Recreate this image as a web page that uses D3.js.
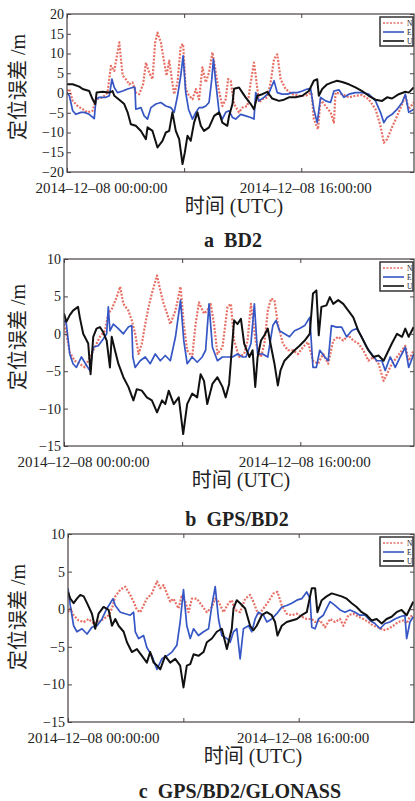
<!DOCTYPE html>
<html>
<head>
<meta charset="utf-8">
<script src="https://cdn.jsdelivr.net/npm/d3@7"></script>
<style>
  body { margin: 0; background: #fff; }
</style>
</head>
<body>
<svg id="chart" width="415" height="801"></svg>
<script>
// series / legend
const seriesNames = ['N', 'E', 'U'];
const seriesColors = ['#e2574a', '#3556c4', '#111111'];
const captions = ['a  BD2', 'b  GPS/BD2', 'c  GPS/BD2/GLONASS'];
const yLabel = '定位误差 /m';
const xLabel = '时间 (UTC)';

// ticks (x in hours after 2014-12-08 00:00 UTC)
const hourTicks = [0, 8, 16];
const hourTickLabels = ['2014\u201312\u201308 00:00:00', '', '2014\u201312\u201308 16:00:00'];
const yTicksBD2 = [20, 15, 10, 5, 0, -5, -10, -15, -20];
const yTicksMulti = [10, 5, 0, -5, -10, -15];

// a BD2  [hour, metres]
const bd2N = [[0,0.5],[0.16,1.0],[0.39,-2],[0.73,-3.3],[1.07,-4.1],[1.41,-4.9],[1.75,-4.5],[1.98,-1.6],[2.43,-1.1],[2.77,0.1],[3,6.9],[3.23,5.6],[3.57,12.8],[3.8,4.4],[4.02,3.5],[4.25,2.2],[4.48,2.7],[4.7,0.1],[4.93,-0.3],[5.2,2.2],[5.39,7.7],[5.61,5.2],[5.84,3.5],[6.02,12.8],[6.18,15.3],[6.41,12.8],[6.64,7.7],[6.8,4.4],[6.98,8.2],[7.16,3.5],[7.32,-0.3],[7.55,2.7],[7.77,12],[7.93,12.4],[8.11,1.0],[8.34,-0.7],[8.57,-1.6],[8.8,1.0],[9.02,-1.6],[9.25,6.5],[9.48,2.7],[9.7,5.2],[9.93,10.3],[10.09,6.9],[10.27,2.7],[10.43,-0.3],[10.61,-3.3],[10.84,-1.6],[11,3.5],[11.18,3.1],[11.41,-2.8],[11.75,-4.9],[11.98,-3.7],[12.32,-3.3],[12.55,2.7],[12.77,7.7],[12.89,4.4],[13.11,-2.4],[13.34,-1.6],[13.68,-1.1],[13.91,2.7],[14.14,8.6],[14.36,9.8],[14.59,3.5],[14.93,1.0],[15.39,-0.3],[15.84,-0.7],[16.3,-0.7],[16.7,0.1],[16.86,-6.6],[17.14,-9.2],[17.32,-1.6],[17.66,-3.3],[18,-4.9],[18.23,-7.5],[18.34,0.1],[18.8,-0.3],[19.25,-1.1],[19.7,-0.7],[20.16,-0.5],[20.61,-1.6],[21.07,-4.1],[21.41,-8.3],[21.64,-12.6],[21.86,-11.7],[22.2,-8.7],[22.55,-5.8],[22.89,-2.8],[23.11,-0.7],[23.34,-4.1],[23.68,-2.4]];
const bd2E = [[0,0.1],[0.16,-0.7],[0.39,-4.5],[0.61,-5.4],[0.95,-4.9],[1.18,-4.9],[1.52,-5.4],[1.86,-6.5],[1.98,-1.6],[2.2,-1.1],[2.66,-1.1],[2.89,-0.7],[3.07,3.5],[3.23,1.4],[3.45,0.1],[3.8,0.5],[4.14,1.0],[4.48,1.4],[4.64,1.4],[4.7,-4.1],[5.05,-3.7],[5.27,-5.8],[5.5,-6.6],[5.73,-3.7],[6.07,-2.8],[6.41,-2.4],[6.75,-3.3],[7.09,-3.7],[7.32,-4.9],[7.55,-0.7],[7.77,4.4],[7.93,9.4],[8.11,0.1],[8.3,-4.1],[8.57,-6.6],[8.8,-4.9],[9.02,-3.7],[9.25,-3.7],[9.48,-3.3],[9.7,-2.4],[9.89,3.5],[10,8.6],[10.16,2.7],[10.39,-4.9],[10.61,-6.6],[10.84,-4.9],[11.07,-4.5],[11.3,-6.2],[11.52,-6.6],[11.86,-5.4],[12.2,-5.8],[12.55,-6.2],[12.77,-6.6],[12.89,0.1],[13.11,-2],[13.45,-1.1],[13.8,0.1],[14.14,3.1],[14.36,0.1],[14.7,-0.3],[15.05,-0.3],[15.39,0.1],[15.73,0.1],[16.07,0.5],[16.41,1.0],[16.64,1.1],[16.86,-4.1],[17.09,-7.5],[17.32,-1.1],[17.66,-2],[18,-2.4],[18.23,0.5],[18.57,0.8],[18.91,-1.1],[19.25,-0.3],[19.7,0.1],[20.16,0.1],[20.61,-0.3],[21.07,-2],[21.41,-4.9],[21.64,-7.5],[21.86,-6.2],[22.2,-5.4],[22.55,-4.1],[22.89,-2.4],[23.11,-0.3],[23.34,-4.9],[23.68,-4.1]];
const bd2U = [[0,2.2],[0.39,2.2],[0.84,1.6],[1.07,1.0],[1.52,0.5],[1.75,-1.6],[1.93,-2.8],[2.02,0.1],[2.43,0.3],[2.89,0.1],[3.11,0.5],[3.23,-0.7],[3.57,-1.7],[3.91,-2.8],[4.14,-4.9],[4.36,-7.9],[4.7,-8.3],[5.05,-9.6],[5.39,-11.7],[5.5,-8.7],[5.84,-9.6],[6.18,-13.8],[6.52,-12.1],[6.75,-10],[6.98,-9.6],[7.2,-4.9],[7.43,-9.6],[7.66,-11.7],[7.89,-18],[8.05,-15],[8.23,-10.8],[8.45,-12.1],[8.68,-7.5],[8.91,-4.9],[9.14,-8.3],[9.36,-9.6],[9.7,-8.7],[10.05,-5.8],[10.39,-4.9],[10.61,-7.5],[10.95,-8.3],[11.07,-5.8],[11.3,-2.8],[11.41,1.1],[11.75,1.4],[11.98,0.1],[12.2,-1.1],[12.55,-2.8],[12.77,-4.1],[13,-0.7],[13.34,-0.3],[13.68,0.3],[14.02,-1.4],[14.48,-2],[14.82,-1.7],[15.16,-1.1],[15.61,-1.1],[16.07,-0.7],[16.52,0.5],[16.86,3.1],[17.09,3.5],[17.2,-0.7],[17.43,1.0],[17.77,2.2],[18.11,2.7],[18.45,3.1],[18.8,2.8],[19.25,2.2],[19.7,1.4],[20.16,0.5],[20.61,-0.7],[21.07,-1.7],[21.52,-2],[21.86,-1.1],[22.2,-1.4],[22.66,-0.3],[23.11,0.3],[23.34,0.1],[23.68,1.4]];

// b GPS/BD2
const gbN = [[0,1.3],[0.16,0],[0.39,-2.5],[0.73,-3.6],[1.07,-4],[1.41,-4.5],[1.75,-3.1],[2.09,-1.8],[2.43,-0.4],[2.77,0.4],[3,2.7],[3.23,3.3],[3.57,4.9],[3.8,6.3],[4.02,4],[4.36,3.1],[4.59,1.8],[4.82,0],[5.05,-2.7],[5.27,-1.3],[5.5,1.3],[5.73,3.6],[5.95,5.4],[6.3,7.8],[6.52,5.8],[6.75,4],[6.98,2.7],[7.2,1.3],[7.55,3.1],[7.89,6.3],[8.11,1.3],[8.34,-2.2],[8.68,-3.1],[8.91,1.3],[9.14,4.2],[9.48,2.7],[9.7,3.1],[9.93,4],[10.16,1.3],[10.39,-2.7],[10.73,-1.8],[11.07,3.6],[11.3,4],[11.52,-0.9],[11.86,-3.1],[12.2,-2.7],[12.43,-0.9],[12.66,4],[13,-1.3],[13.34,-3.1],[13.57,-1.3],[13.8,3.1],[14.02,4.7],[14.25,4.5],[14.48,1.3],[14.82,-1.3],[15.16,-2.2],[15.5,-2.2],[15.84,-2.7],[16.18,-1.8],[16.52,-1.1],[16.86,-3.6],[17.2,-4],[17.55,-2.7],[17.89,-4],[18.23,-0.9],[18.57,-0.4],[18.91,-0.9],[19.25,-0.2],[19.59,-0.9],[19.93,-1.3],[20.27,-2.2],[20.61,-3.6],[20.95,-3.1],[21.3,-4],[21.64,-6.3],[21.86,-5.4],[22.2,-4],[22.55,-3.1],[22.89,-2.2],[23.11,-1.6],[23.34,-3.6],[23.68,-2.2]];
const gbE = [[0,1.8],[0.16,1.3],[0.39,-2.7],[0.61,-4],[0.84,-4.5],[1.18,-3.1],[1.52,-4.2],[1.75,-4.9],[1.98,-1.8],[2.32,-1.6],[2.66,-0.7],[2.89,0],[3,3.6],[3.11,0.4],[3.34,1.3],[3.68,0.7],[4.02,0],[4.36,0.9],[4.59,1.1],[4.66,-3.1],[4.82,-4.5],[5.16,-3.6],[5.5,-3.1],[5.84,-4],[6.18,-2.7],[6.52,-3.6],[6.86,-2.9],[7.2,-3.6],[7.55,-0.4],[7.89,4.5],[8.11,-0.9],[8.34,-4],[8.68,-3.1],[9.02,-3.8],[9.36,-3.1],[9.59,-2.2],[9.82,4],[10.05,-1.8],[10.39,-3.6],[10.73,-3.1],[11.07,-3.1],[11.41,-3.1],[11.75,-2.7],[12.09,-3.1],[12.32,-3.1],[12.66,-1.3],[12.89,4],[13.11,-2.7],[13.45,-2.7],[13.8,-3.1],[14.14,1.1],[14.36,1.8],[14.59,0.4],[14.93,0],[15.27,-0.4],[15.61,0.4],[15.95,0.7],[16.3,1.1],[16.64,2.2],[16.86,-4.5],[17.09,-4.5],[17.32,-2.2],[17.66,-3.1],[17.89,-3.6],[18.11,1.1],[18.45,0.9],[18.8,0.9],[19.14,-0.4],[19.48,0.4],[19.82,0.7],[20.16,-0.4],[20.5,-1.8],[20.84,-2.7],[21.18,-3.6],[21.52,-3.6],[21.75,-4.9],[22.09,-3.1],[22.43,-4.5],[22.77,-3.1],[23.11,-1.8],[23.34,-4.5],[23.68,-2.7]];
const gbU = [[0,2.7],[0.16,1.6],[0.39,2.5],[0.61,3.1],[0.95,3.6],[1.07,2.2],[1.3,0],[1.64,-1.3],[1.8,-5.4],[1.98,-0.4],[2.2,0.7],[2.43,0.9],[2.66,0.2],[2.89,-0.9],[3.11,-4.5],[3.23,-0.4],[3.45,-2.2],[3.68,-4],[4.02,-5.8],[4.36,-7.1],[4.7,-8.9],[4.93,-7.4],[5.27,-7.6],[5.61,-8.5],[5.95,-8.9],[6.3,-10.5],[6.64,-8.9],[6.86,-9.4],[7.09,-7.6],[7.43,-9.4],[7.77,-8.5],[8.07,-13.4],[8.34,-9.4],[8.68,-8],[9.02,-8.5],[9.25,-5.4],[9.48,-6.3],[9.7,-9.4],[10.05,-6.7],[10.39,-5.8],[10.73,-7.1],[10.95,-8.5],[11.18,-6.7],[11.41,-0.9],[11.52,1.8],[11.75,1.3],[11.98,2],[12.2,-1.3],[12.55,-3.1],[12.77,-2.2],[12.95,-7.1],[13.11,-3.1],[13.34,-0.9],[13.57,-0.2],[13.8,0.7],[13.98,-1.3],[14.25,-4],[14.48,-6.9],[14.66,-4.9],[14.93,-3.6],[15.27,-2.9],[15.61,-2.2],[15.95,-1.6],[16.3,-0.9],[16.64,0],[16.86,5.4],[17.09,5.8],[17.25,-0.2],[17.43,3.6],[17.77,3.8],[18,4.9],[18.23,4],[18.57,4.5],[18.91,4],[19.25,3.1],[19.59,2.2],[19.93,0.4],[20.27,-0.9],[20.61,-2.2],[20.95,-3.1],[21.3,-2.9],[21.64,-3.6],[21.86,-2.7],[22.2,-1.3],[22.55,0],[22.89,-0.4],[23.11,0.7],[23.34,-0.4],[23.68,0.9]];

// c GPS/BD2/GLONASS
const gbgN = [[0,-0.4],[0.16,0.1],[0.39,-0.8],[0.74,-1.5],[1.09,-1.7],[1.43,-1.3],[1.78,-1.9],[2.12,-1.7],[2.47,-1.3],[2.82,-0.8],[3.05,0.1],[3.28,1.7],[3.63,2.6],[3.97,3],[4.32,1.9],[4.55,1],[4.78,-0.1],[5.01,-0.4],[5.24,0.5],[5.47,1.4],[5.82,2.1],[6.17,3.7],[6.4,2.8],[6.63,3.2],[6.86,2.1],[7.09,1],[7.32,1.4],[7.67,0.1],[7.9,1.9],[8.13,1],[8.36,-0.4],[8.59,1.4],[8.94,1.4],[9.28,0.5],[9.63,-0.4],[9.98,0.3],[10.21,1.4],[10.44,1],[10.79,-0.4],[11.13,0.8],[11.36,1.2],[11.59,-0.1],[11.94,-0.4],[12.29,1.4],[12.63,1.9],[12.86,1],[13.21,-0.8],[13.56,0.1],[13.9,1],[14.25,2.1],[14.53,2.3],[14.83,0.5],[15.17,-0.6],[15.52,-0.8],[15.87,-0.6],[16.21,-1],[16.56,-1.3],[16.91,-1.3],[17.14,-1.7],[17.48,-1.5],[17.83,-2.4],[18.18,-1.3],[18.52,-1.7],[18.87,-1.3],[19.1,-2.2],[19.45,-0.8],[19.79,-0.6],[20.14,-1],[20.48,-1.3],[20.83,-1.7],[21.18,-2.2],[21.52,-2.4],[21.87,-2.8],[22.22,-2.6],[22.56,-2.2],[22.91,-1.7],[23.26,-1.5],[23.49,-1.9],[23.72,-1],[23.95,-0.8]];
const gbgE = [[0,2.8],[0.16,0.5],[0.39,-2.2],[0.62,-3],[0.97,-2.6],[1.32,-3.3],[1.66,-2.4],[2.01,-2.2],[2.36,-1.3],[2.7,0.1],[2.93,0.8],[3.12,1.4],[3.28,0.5],[3.63,-0.4],[3.97,-0.6],[4.32,-0.8],[4.55,-0.4],[4.67,-3],[4.9,-3.9],[5.24,-3.5],[5.47,-5.1],[5.82,-6.2],[6.17,-8],[6.51,-6.6],[6.86,-6.2],[7.21,-5.7],[7.55,-4.8],[7.78,-1.7],[8.01,2.6],[8.24,-2.2],[8.48,-3.9],[8.71,-2.6],[9.05,-3.5],[9.4,-3],[9.75,-2.6],[9.98,0.5],[10.21,3],[10.44,-1.3],[10.67,-3.5],[11.02,-3.9],[11.25,-4.4],[11.48,-3],[11.71,-2.6],[11.94,-6.6],[12.17,-2.6],[12.52,-2.2],[12.75,-3],[12.98,-1.3],[13.21,-0.4],[13.56,-0.8],[13.79,-1.7],[14.13,-1.3],[14.48,-0.6],[14.83,0.3],[15.17,0.5],[15.52,0.8],[15.87,1.2],[16.21,1.4],[16.56,2.3],[16.79,1.4],[16.91,-2.4],[17.14,-2.6],[17.37,-1.3],[17.71,-0.8],[17.94,0.1],[18.18,1],[18.52,0.5],[18.87,-0.1],[19.21,-0.4],[19.56,-0.1],[19.91,-0.4],[20.25,-0.8],[20.6,-0.8],[20.95,-1.5],[21.29,-1.9],[21.64,-2.6],[21.99,-1.9],[22.33,-1.7],[22.68,-1.3],[23.03,-1],[23.37,-0.8],[23.49,-3.9],[23.72,-1.7],[23.95,-1]];
const gbgU = [[0,2.3],[0.16,1.4],[0.39,0.8],[0.62,1.4],[0.85,1.9],[1.09,1.7],[1.32,0.8],[1.66,-0.6],[1.89,-2.6],[2.12,-0.6],[2.47,0.3],[2.82,-0.1],[3.05,-2.2],[3.28,-1.3],[3.51,-2.2],[3.86,-3],[4.09,-4.4],[4.43,-5.7],[4.78,-5.3],[5.13,-6.2],[5.47,-7.1],[5.7,-5.7],[5.94,-7.1],[6.17,-7.5],[6.4,-8],[6.74,-6.2],[7.09,-7.1],[7.44,-6.6],[7.78,-7.5],[8.01,-10.4],[8.24,-7.5],[8.48,-7.3],[8.71,-6],[9.05,-6.2],[9.4,-5.7],[9.63,-4.4],[9.98,-3.9],[10.32,-3],[10.67,-2.6],[11.02,-5.3],[11.36,-2.6],[11.48,0.1],[11.71,1.2],[11.94,0.8],[12.29,0.1],[12.63,-2.2],[12.86,-2.8],[13.09,-2.2],[13.44,-0.8],[13.79,-0.4],[14.13,-0.8],[14.36,-1.7],[14.53,-3.5],[14.83,-2.2],[15.17,-1.7],[15.52,-1.5],[15.87,-1.3],[16.21,-0.8],[16.56,-0.4],[16.91,2.8],[17.14,2.8],[17.3,-0.4],[17.6,1.2],[17.94,1.7],[18.29,2.1],[18.64,1.9],[18.98,1.7],[19.33,1.4],[19.68,0.8],[20.02,0.3],[20.37,-0.4],[20.72,-0.8],[21.06,-1.5],[21.41,-1.3],[21.76,-1.9],[22.1,-1.3],[22.45,-1],[22.79,-0.4],[23.14,-0.1],[23.49,-0.8],[23.72,0.1],[23.95,1]];

const serif = '"Liberation Serif", "Times New Roman", serif';
const cjk = '"Liberation Serif", "Noto Sans CJK SC", serif';
const ink = '#222';
const frameColor = '#4a4242';

const panels = [
  { id: 'a', series: [bd2N, bd2E, bd2U], yTicks: yTicksBD2, caption: captions[0],
    left: 67, right: 414, top: 14, bottom: 172, hourEnd: 23.7,
    firstLabelX: 35, yLabelY: 87, xTitleX: 234, captionX: 233, captionY: 247 },
  { id: 'b', series: [gbN, gbE, gbU], yTicks: yTicksMulti, caption: captions[1],
    left: 64, right: 414, top: 259, bottom: 446, hourEnd: 23.7,
    firstLabelX: 17, yLabelY: 337, xTitleX: 241, captionX: 237, captionY: 526 },
  { id: 'c', series: [gbgN, gbgE, gbgU], yTicks: yTicksMulti, caption: captions[2],
    left: 68, right: 414, top: 534, bottom: 722, hourEnd: 24.0,
    firstLabelX: 27, yLabelY: 617, xTitleX: 253, captionX: 240, captionY: 798 }
];

const svg = d3.select('#chart');
svg.append('rect').attr('width', 415).attr('height', 801).attr('fill', '#fff');

panels.forEach(p => {
  const x = d3.scaleLinear().domain([0, p.hourEnd]).range([p.left, p.right]);
  const y = d3.scaleLinear().domain(d3.extent(p.yTicks)).range([p.bottom, p.top]);

  const clipId = 'clip-' + p.id;
  svg.append('clipPath').attr('id', clipId)
    .append('rect')
    .attr('x', p.left).attr('y', p.top)
    .attr('width', p.right - p.left).attr('height', p.bottom - p.top);

  const line = d3.line().x(d => x(d[0])).y(d => y(d[1]));
  const plot = svg.append('g').attr('clip-path', `url(#${clipId})`);

  p.series.forEach((s, i) => {
    const path = plot.append('path')
      .datum(s)
      .attr('d', line)
      .attr('fill', 'none')
      .attr('stroke', seriesColors[i])
      .attr('stroke-linejoin', 'round');
    if (i === 0) {
      path.attr('stroke-width', 2.2).attr('stroke-dasharray', '2,1.5').attr('opacity', 0.85);
    } else if (i === 1) {
      path.attr('stroke-width', 1.7);
    } else {
      path.attr('stroke-width', 2);
    }
  });

  // axes, ticks pointing inward like the original
  const fmt = d => d < 0 ? '\u2212' + Math.abs(d) : String(d);
  const styleAxis = (g, size) => {
    g.select('.domain').remove();
    g.selectAll('line').attr('stroke', frameColor);
    g.attr('font-family', serif).attr('font-size', size || 15);
    g.selectAll('text').attr('fill', ink);
  };

  svg.append('g')
    .attr('transform', `translate(${p.left},0)`)
    .call(d3.axisLeft(y).tickValues(p.yTicks).tickSizeInner(-4).tickSizeOuter(0).tickPadding(3).tickFormat(fmt))
    .call(styleAxis, 14);

  svg.append('g')
    .attr('transform', `translate(${p.right},0)`)
    .call(d3.axisRight(y).tickValues(p.yTicks).tickSizeInner(-4).tickSizeOuter(0).tickFormat(''))
    .call(styleAxis);

  svg.append('g')
    .attr('transform', `translate(0,${p.top})`)
    .call(d3.axisTop(x).tickValues(hourTicks).tickSizeInner(-4).tickSizeOuter(0).tickFormat(''))
    .call(styleAxis);

  const bottom = svg.append('g')
    .attr('transform', `translate(0,${p.bottom})`)
    .call(d3.axisBottom(x).tickValues(hourTicks).tickSizeInner(-4).tickSizeOuter(0).tickPadding(10)
      .tickFormat((d, i) => hourTickLabels[i]))
    .call(styleAxis, 15);
  bottom.selectAll('.tick text')
    .attr('x', (d, i) => i === 0 ? p.firstLabelX - p.left : 4)
    .attr('text-anchor', (d, i) => i === 0 ? 'start' : 'middle');

  // frame
  svg.append('rect')
    .attr('x', p.left).attr('y', p.top)
    .attr('width', p.right - p.left).attr('height', p.bottom - p.top)
    .attr('fill', 'none').attr('stroke', frameColor).attr('stroke-width', 1.2);

  // legend
  const lg = svg.append('g').attr('transform', `translate(${p.right - 34},${p.top + 3})`);
  lg.append('rect').attr('width', 33).attr('height', 29)
    .attr('fill', '#fff').attr('stroke', '#333').attr('stroke-width', 1.5);
  seriesNames.forEach((n, i) => {
    const ly = 6 + i * 9;
    const l = lg.append('line').attr('x1', 3).attr('x2', 24).attr('y1', ly).attr('y2', ly)
      .attr('stroke', seriesColors[i]).attr('stroke-width', 1.6);
    if (i === 0) l.attr('stroke-dasharray', '2,1.5').attr('opacity', 0.85);
    lg.append('text').attr('x', 27).attr('y', ly + 2.7)
      .attr('font-family', serif).attr('font-size', 7.5).attr('fill', ink)
      .text(n);
  });

  // y title
  svg.append('text')
    .attr('transform', `translate(18,${p.yLabelY}) rotate(-90)`)
    .attr('text-anchor', 'middle')
    .attr('dominant-baseline', 'central')
    .attr('font-family', cjk).attr('font-size', 20).attr('fill', ink)
    .text(yLabel);

  // x title
  svg.append('text')
    .attr('x', p.xTitleX).attr('y', p.bottom + 41)
    .attr('text-anchor', 'middle')
    .attr('font-family', cjk).attr('font-size', 20).attr('fill', ink)
    .text(xLabel);

  // caption
  svg.append('text')
    .attr('x', p.captionX).attr('y', p.captionY)
    .attr('text-anchor', 'middle')
    .style('white-space', 'pre')
    .attr('font-family', serif).attr('font-size', 20).attr('font-weight', 'bold').attr('fill', ink)
    .text(p.caption);
});
</script>
</body>
</html>
